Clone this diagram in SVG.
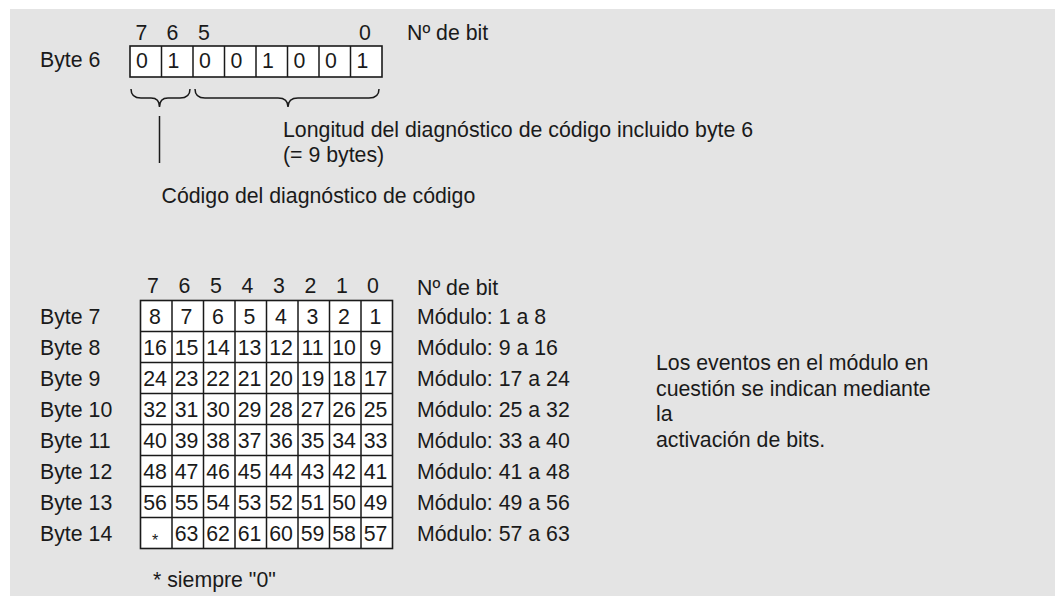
<svg xmlns="http://www.w3.org/2000/svg" width="1055" height="596" viewBox="0 0 1055 596">
<style>
text{font-family:"Liberation Sans",Arial,sans-serif;font-size:21.3px;fill:#1a1a1a}
.c{fill:#fff;stroke:#1a1a1a;stroke-width:1.6}
.m{text-anchor:middle}
.ln{fill:none;stroke:#1a1a1a;stroke-width:1.5}
</style>
<rect x="0" y="0" width="1055" height="596" fill="#fff"/>
<rect x="10" y="9" width="1045" height="587" fill="#e4e4e4"/>

<g id="byte6">
<text x="40" y="67">Byte 6</text>
<g class="m">
<text x="141.5" y="40">7</text><text x="172.5" y="40">6</text><text x="204" y="40">5</text><text x="365" y="40">0</text>
</g>
<text x="407" y="40">Nº de bit</text>
<rect class="c" x="130" y="46" width="252" height="31"/>
<path class="ln" d="M161.5,46V77M193,46V77M224.5,46V77M256,46V77M287.5,46V77M319,46V77M350.5,46V77"/>
<text x="136" y="68">0</text><text x="167.5" y="68">1</text><text x="199" y="68">0</text><text x="230.5" y="68">0</text>
<text x="262" y="68">1</text><text x="293.5" y="68">0</text><text x="325" y="68">0</text><text x="356.5" y="68">1</text>
</g>

<g id="connectors">
<path class="ln" d="M131,89Q131,98 141,98L151,98Q159.5,98 159.5,107Q159.5,98 168,98L180,98Q190,98 190,89"/>
<path class="ln" d="M195,89Q195,98 205,98L278,98Q288,98 288,107Q288,98 298,98L369,98Q379,98 379,89"/>
<path class="ln" d="M159.5,116V163"/>
</g>

<g id="notes-top">
<text x="283" y="137">Longitud del diagnóstico de código incluido byte 6</text>
<text x="283" y="162">(= 9 bytes)</text>
<text x="161.5" y="203">Código del diagnóstico de código</text>
</g>

<g id="grid">
<g class="m">
<text x="153" y="293">7</text><text x="184.5" y="293">6</text><text x="216" y="293">5</text><text x="247.5" y="293">4</text>
<text x="279" y="293">3</text><text x="310.5" y="293">2</text><text x="342" y="293">1</text><text x="373" y="293">0</text>
</g>
<rect class="c" x="140.5" y="300.5" width="252" height="248"/>
<path class="ln" d="M172,300.5V548.5M203.5,300.5V548.5M235,300.5V548.5M266.5,300.5V548.5M298,300.5V548.5M329.5,300.5V548.5M361,300.5V548.5M140.5,331.5H392.5M140.5,362.5H392.5M140.5,393.5H392.5M140.5,424.5H392.5M140.5,455.5H392.5M140.5,486.5H392.5M140.5,517.5H392.5"/>
<g class="m">
<text x="155" y="324">8</text><text x="186.5" y="324">7</text><text x="218" y="324">6</text><text x="249.5" y="324">5</text><text x="281" y="324">4</text><text x="312.5" y="324">3</text><text x="344" y="324">2</text><text x="375.5" y="324">1</text>
<text x="155" y="355">16</text><text x="186.5" y="355">15</text><text x="218" y="355">14</text><text x="249.5" y="355">13</text><text x="281" y="355">12</text><text x="312.5" y="355">11</text><text x="344" y="355">10</text><text x="375.5" y="355">9</text>
<text x="155" y="386">24</text><text x="186.5" y="386">23</text><text x="218" y="386">22</text><text x="249.5" y="386">21</text><text x="281" y="386">20</text><text x="312.5" y="386">19</text><text x="344" y="386">18</text><text x="375.5" y="386">17</text>
<text x="155" y="417">32</text><text x="186.5" y="417">31</text><text x="218" y="417">30</text><text x="249.5" y="417">29</text><text x="281" y="417">28</text><text x="312.5" y="417">27</text><text x="344" y="417">26</text><text x="375.5" y="417">25</text>
<text x="155" y="448">40</text><text x="186.5" y="448">39</text><text x="218" y="448">38</text><text x="249.5" y="448">37</text><text x="281" y="448">36</text><text x="312.5" y="448">35</text><text x="344" y="448">34</text><text x="375.5" y="448">33</text>
<text x="155" y="479">48</text><text x="186.5" y="479">47</text><text x="218" y="479">46</text><text x="249.5" y="479">45</text><text x="281" y="479">44</text><text x="312.5" y="479">43</text><text x="344" y="479">42</text><text x="375.5" y="479">41</text>
<text x="155" y="510">56</text><text x="186.5" y="510">55</text><text x="218" y="510">54</text><text x="249.5" y="510">53</text><text x="281" y="510">52</text><text x="312.5" y="510">51</text><text x="344" y="510">50</text><text x="375.5" y="510">49</text>
<text x="155" y="546" style="font-size:16px">*</text><text x="186.5" y="541">63</text><text x="218" y="541">62</text><text x="249.5" y="541">61</text><text x="281" y="541">60</text><text x="312.5" y="541">59</text><text x="344" y="541">58</text><text x="375.5" y="541">57</text>
</g>
</g>

<g id="byte-labels">
<text x="40" y="324">Byte 7</text><text x="40" y="355">Byte 8</text><text x="40" y="386">Byte 9</text><text x="40" y="417">Byte 10</text>
<text x="40" y="448">Byte 11</text><text x="40" y="479">Byte 12</text><text x="40" y="510">Byte 13</text><text x="40" y="541">Byte 14</text>
</g>

<g id="module-labels">
<text x="417" y="295">Nº de bit</text>
<text x="417" y="324">Módulo: 1 a 8</text><text x="417" y="355">Módulo: 9 a 16</text><text x="417" y="386">Módulo: 17 a 24</text><text x="417" y="417">Módulo: 25 a 32</text>
<text x="417" y="448">Módulo: 33 a 40</text><text x="417" y="479">Módulo: 41 a 48</text><text x="417" y="510">Módulo: 49 a 56</text><text x="417" y="541">Módulo: 57 a 63</text>
</g>

<g id="note-right">
<text x="656" y="370">Los eventos en el módulo en</text>
<text x="656" y="395.5">cuestión se indican mediante</text>
<text x="656" y="421">la</text>
<text x="656" y="446.5">activación de bits.</text>
</g>

<g id="footnote">
<text x="153" y="587">* siempre "0"</text>
</g>
</svg>
